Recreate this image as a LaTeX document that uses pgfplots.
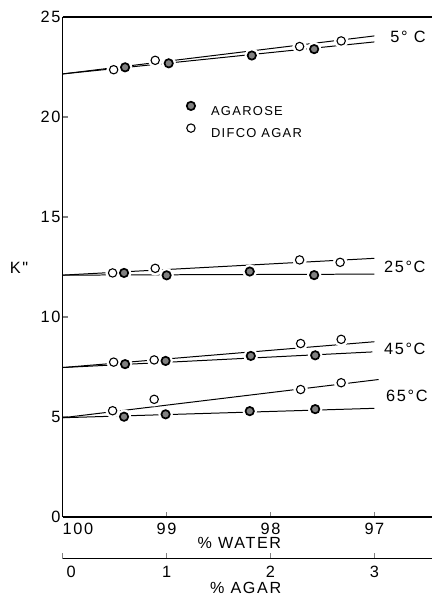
\documentclass[border=0pt]{standalone}
\usepackage{fontspec}
\setmainfont{Liberation Sans}[LetterSpace=10]
% same face without TeX ligatures, so that " stays a straight double quote
\newfontfamily\plainfont{Liberation Sans}[LetterSpace=10]
\usepackage{pgfplots}
\pgfplotsset{compat=1.18}
\usetikzlibrary{calc}

% marker styles
\pgfplotsset{
  difco/.style={only marks, mark=*, mark size=2.1pt,
    mark options={draw=black, fill=white, line width=0.55pt}},
  agarose/.style={only marks, mark=*, mark size=2.1pt,
    mark options={draw=black, fill=black!50, line width=0.85pt}},
  halo/.style={only marks, mark=*, mark size=3.4pt, white,
    mark options={draw=white, fill=white}, forget plot},
  fit/.style={black, line width=0.5pt, no marks, forget plot},
}

\begin{document}
\begin{tikzpicture}
\begin{axis}[
  name=main,
  scale only axis, width=185.5pt, height=251pt,
  xmin=0, xmax=3.557, ymin=0, ymax=25,
  axis x line=box, axis y line=left,
  axis line style={-, line width=0.65pt},
  tick pos=left, tick align=inside,
  major tick length=2.5pt,
  tick style={line width=0.6pt},
  xtick={0,1,2,3}, xticklabels={\makebox[0pt][l]{100},99,98,97},
  ytick={0,5,10,15,20,25}, yticklabels={0,5,10,15,20,25},
  ticklabel style={font=\fontsize{8.2}{9}\selectfont},
  xticklabel style={inner sep=0pt, yshift=-3pt},
  yticklabel style={inner sep=1pt},
  clip=false,
  legend cell align=left,
  legend image code/.code={\draw[#1] plot coordinates {(0pt,2.3pt)};},
  legend style={draw=none, fill=none, inner sep=0pt,
    at={(axis cs:1.19,20.78)}, anchor=north west,
    row sep=2.9pt, column sep=6.5pt,
    nodes={inner sep=1.5pt, text height=4.7pt, text depth=0pt},
    font=\fontsize{6.5}{7}\selectfont},
]
% fitted lines, 5 C
\addplot[fit] coordinates {(0,22.15) (3.0,24.05)};
\addplot[fit] coordinates {(0,22.15) (3.0,23.75)};
% 25 C
\addplot[fit] coordinates {(0,12.09) (3.0,12.93)};
\addplot[fit] coordinates {(0,12.09) (3.0,12.14)};
% 45 C
\addplot[fit] coordinates {(0,7.47) (3.0,8.76)};
\addplot[fit] coordinates {(0,7.47) (2.98,8.25)};
% 65 C
\addplot[fit] coordinates {(0,4.96) (3.04,6.87)};
\addplot[fit] coordinates {(0,4.96) (3.0,5.43)};

% white gaps in the lines around every point
\addplot[halo] coordinates {
  (0.60,22.48) (1.02,22.68) (1.82,23.07) (2.42,23.39)
  (0.59,12.20) (1.00,12.08) (1.80,12.27) (2.42,12.09)
  (0.60,7.64) (0.99,7.80) (1.81,8.05) (2.43,8.08)
  (0.59,5.01) (0.99,5.13) (1.80,5.29) (2.43,5.39)
  (0.49,22.36) (0.89,22.83) (2.28,23.52) (2.68,23.80)
  (0.48,12.20) (0.89,12.43) (2.28,12.85) (2.67,12.73)
  (0.49,7.74) (0.88,7.85) (2.29,8.67) (2.68,8.88)
  (0.48,5.31) (0.88,5.88) (2.29,6.37) (2.68,6.71)
};

% agarose
\addplot[agarose] coordinates {
  (0.60,22.48) (1.02,22.68) (1.82,23.07) (2.42,23.39)
  (0.59,12.20) (1.00,12.08) (1.80,12.27) (2.42,12.09)
  (0.60,7.64) (0.99,7.80) (1.81,8.05) (2.43,8.08)
  (0.59,5.01) (0.99,5.13) (1.80,5.29) (2.43,5.39)
};
\addlegendentry{AGAROSE}
% difco agar
\addplot[difco] coordinates {
  (0.49,22.36) (0.89,22.83) (2.28,23.52) (2.68,23.80)
  (0.48,12.20) (0.89,12.43) (2.28,12.85) (2.67,12.73)
  (0.49,7.74) (0.88,7.85) (2.29,8.67) (2.68,8.88)
  (0.48,5.31) (0.88,5.88) (2.29,6.37) (2.68,6.71)
};
\addlegendentry{DIFCO AGAR}

% temperature labels
\begin{scope}[every node/.style={anchor=west, inner sep=0pt, font=\fontsize{8.2}{9}\selectfont}]
\node at (axis cs:3.15,24.0) {5° C};
\node at (axis cs:3.09,12.48) {25°C};
\node at (axis cs:3.09,8.42) {45°C};
\node at (axis cs:3.11,6.04) {65°C};
\end{scope}

\node[font=\plainfont\fontsize{8.2}{9}\selectfont] at (axis cs:-0.42,12.43) {K"};
\node[font=\fontsize{8.1}{9}\selectfont, inner sep=0pt] at (axis description cs:0.478,0) [yshift=-13pt] {\% WATER};
\end{axis}

\coordinate (agarbase) at ($(main.south west)+(0pt,-21pt)$);

% second scale: percent agar
\begin{axis}[
  at={(agarbase)}, anchor=south west,
  scale only axis, width=185.5pt, height=5pt,
  xmin=0, xmax=3.557, ymin=0, ymax=1,
  axis x line=bottom, axis line style={-, line width=0.65pt},
  hide y axis,
  tick align=inside, major tick length=2.8pt,
  tick style={line width=0.6pt},
  xtick={0,1,2,3}, xticklabels={\makebox[0pt][l]{\hspace{2pt}0},1,2,3},
  ticklabel style={font=\fontsize{8.2}{9}\selectfont},
  clip=false,
]
\addplot[draw=none, forget plot] coordinates {(0,0) (3,0)};
\node[font=\fontsize{8.1}{9}\selectfont] at (axis description cs:0.495,0) [yshift=-14.5pt] {\% AGAR};
\end{axis}

% page frame
\path ([xshift=-31.5pt,yshift=-40.5pt]main.south west) rectangle ([yshift=8.5pt]main.north east);
\end{tikzpicture}
\end{document}
